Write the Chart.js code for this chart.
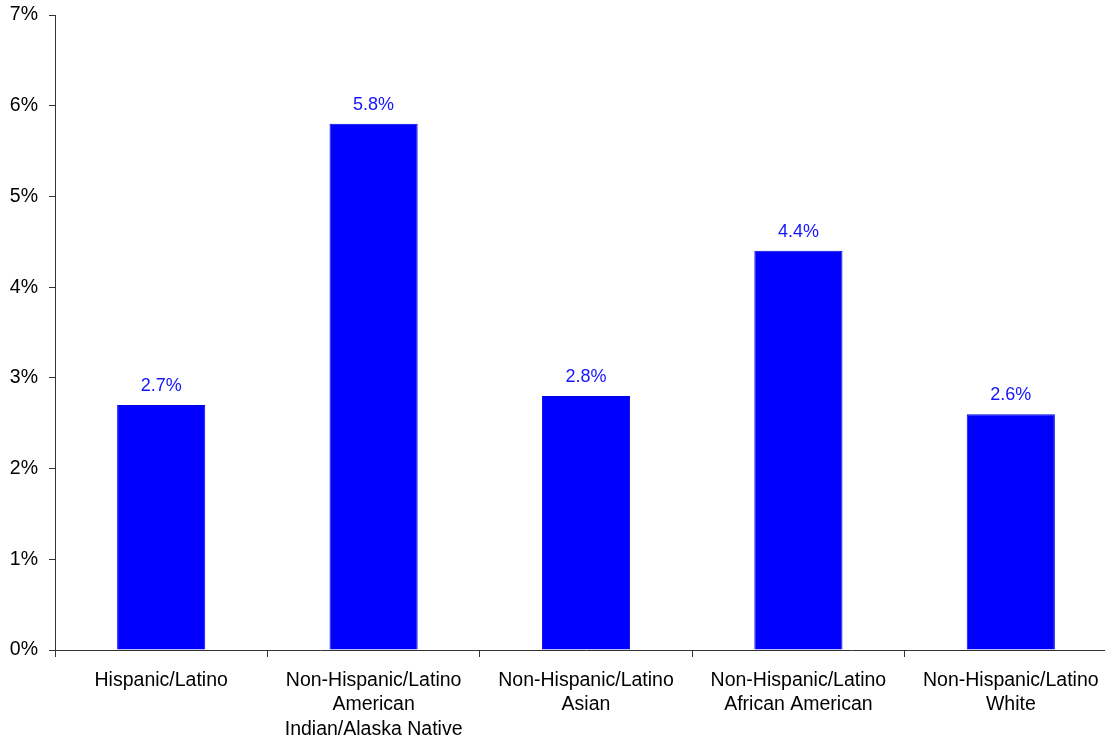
<!DOCTYPE html>
<html>
<head>
<meta charset="utf-8">
<script src="https://cdn.jsdelivr.net/npm/chart.js@4/dist/chart.umd.min.js"></script>
<style>
  html, body { margin: 0; padding: 0; background: #fff; overflow: hidden; }
  #wrap { width: 1117px; height: 740px; position: relative; }
</style>
</head>
<body>
<div id="wrap"><canvas id="myChart"></canvas></div>
<script>
// groupes et taux
const categories = [
  ['Hispanic/Latino'],
  ['Non-Hispanic/Latino', 'American', 'Indian/Alaska Native'],
  ['Non-Hispanic/Latino', 'Asian'],
  ['Non-Hispanic/Latino', 'African American'],
  ['Non-Hispanic/Latino', 'White']
];
const rates = [2.7, 5.8, 2.8, 4.4, 2.6];
const yTicks = [0, 1, 2, 3, 4, 5, 6, 7];

const police = 'Arial, "Liberation Sans", sans-serif';
const couleurAxe = '#333333';

// étiquettes de valeur au-dessus des barres
const etiquettes = {
  id: 'etiquettes',
  afterDatasetsDraw(chart) {
    const ctx = chart.ctx;
    const meta = chart.getDatasetMeta(0);
    ctx.save();
    ctx.font = '18px ' + police;
    ctx.fillStyle = '#1414ff';
    ctx.textAlign = 'center';
    ctx.textBaseline = 'middle';
    meta.data.forEach((bar, i) => {
      ctx.fillText(rates[i].toFixed(1) + '%', bar.x, bar.y - 19);
    });
    ctx.restore();
  }
};

const ctx = document.getElementById('myChart').getContext('2d');
const myChart = new Chart(ctx, {
  type: 'bar',
  data: {
    labels: categories,
    datasets: [{
      data: rates,
      backgroundColor: '#0000ff',
      borderColor: '#0000e6',
      borderWidth: 1,
      categoryPercentage: 1,
      barPercentage: 0.415
    }]
  },
  options: {
    responsive: true,
    maintainAspectRatio: false,
    animation: false,
    layout: { padding: { top: 15, right: 0, bottom: 0, left: 0 } },
    plugins: {
      legend: { display: false },
      tooltip: { enabled: false }
    },
    scales: {
      x: {
        grid: {
          display: true,
          offset: true,
          drawOnChartArea: false,
          drawTicks: true,
          tickLength: 7,
          color: couleurAxe
        },
        border: { display: true, color: couleurAxe, width: 1 },
        ticks: {
          color: '#000',
          font: { family: police, size: 19.5, lineHeight: 1.26 },
          padding: 11,
          maxRotation: 0,
          autoSkip: false
        },
        afterFit(scale) { scale.height = 90; }
      },
      y: {
        min: 0,
        max: 7,
        afterBuildTicks(scale) {
          scale.ticks = yTicks.map(v => ({ value: v }));
        },
        grid: {
          display: true,
          drawOnChartArea: false,
          drawTicks: true,
          tickLength: 6,
          color: couleurAxe
        },
        border: { display: true, color: couleurAxe, width: 1 },
        ticks: {
          color: '#000',
          font: { family: police, size: 19.5 },
          padding: 11,
          callback: v => v + '%'
        },
        afterFit(scale) {
          scale.width = 55;
          scale.paddingTop = 0;
          scale.paddingBottom = 0;
        }
      }
    }
  },
  plugins: [etiquettes]
});
</script>
</body>
</html>
